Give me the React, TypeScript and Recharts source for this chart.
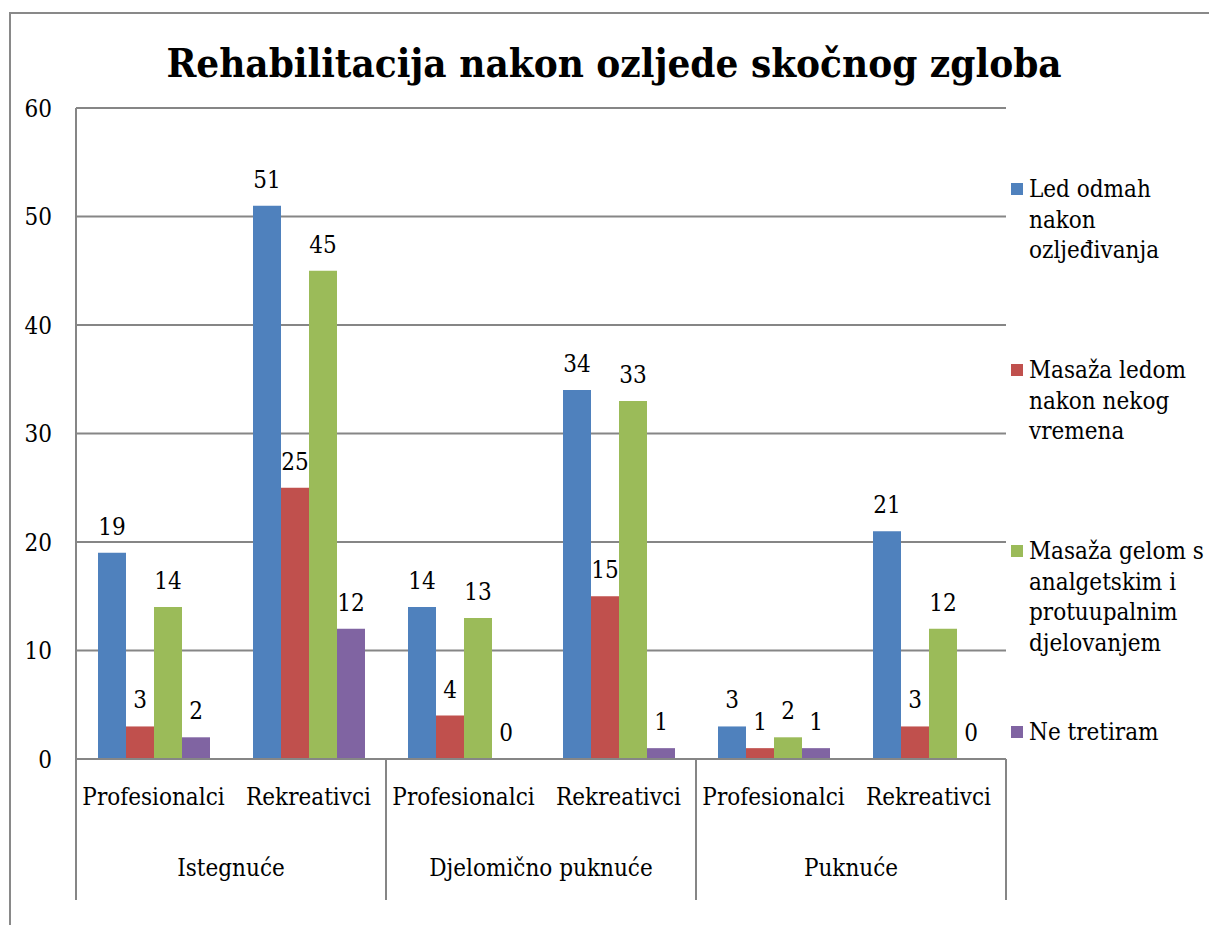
import React from "react";
import { BarChart, Bar, XAxis, YAxis, CartesianGrid, LabelList } from "recharts";

const SUBCATEGORIES = ["Profesionalci", "Rekreativci", "Profesionalci", "Rekreativci", "Profesionalci", "Rekreativci"];
const GROUPS = ["Istegnuće", "Istegnuće", "Djelomično puknuće", "Djelomično puknuće", "Puknuće", "Puknuće"];
const LED_ODMAH = [19, 51, 14, 34, 3, 21];
const MASAZA_LEDOM = [3, 25, 4, 15, 1, 3];
const MASAZA_GELOM = [14, 45, 13, 33, 2, 12];
const NE_TRETIRAM = [2, 12, 0, 1, 1, 0];
const Y_TICKS = [0, 10, 20, 30, 40, 50, 60];

const SERIES = [
  { key: "led", name: "Led odmah nakon ozljeđivanja", lines: ["Led odmah", "nakon", "ozljeđivanja"], color: "#4F81BD", values: LED_ODMAH },
  { key: "ledom", name: "Masaža ledom nakon nekog vremena", lines: ["Masaža ledom", "nakon nekog", "vremena"], color: "#C0504D", values: MASAZA_LEDOM },
  { key: "gelom", name: "Masaža gelom s analgetskim i protuupalnim djelovanjem", lines: ["Masaža gelom s", "analgetskim i", "protuupalnim", "djelovanjem"], color: "#9BBB59", values: MASAZA_GELOM },
  { key: "ne", name: "Ne tretiram", lines: ["Ne tretiram"], color: "#8064A2", values: NE_TRETIRAM },
];

const DATA = SUBCATEGORIES.map((sub, i) => {
  const row: Record<string, string | number> = { sub, group: GROUPS[i] };
  SERIES.forEach((s) => {
    row[s.key] = s.values[i];
  });
  return row;
});

const W = 1209;
const H = 925;
const MARGIN = { top: 108, right: 203, left: 16, bottom: 0 };
const Y_AXIS_W = 60;
const X_AXIS_H = 166;
const PLOT_W = W - MARGIN.left - Y_AXIS_W - MARGIN.right;
const BAND = PLOT_W / SUBCATEGORIES.length;
const TXT: React.CSSProperties = { fontFamily: "DejaVu Serif", fontStretch: "condensed" };
const FS = 24;
const GRID = "#868686";

const XTick = (props: any) => {
  const { x, y, payload, index } = props;
  const i = typeof index === "number" ? index : payload.index;
  const items: React.ReactNode[] = [];
  items.push(
    <text key="s" x={x} y={y + 46} textAnchor="middle" fontSize={FS} style={TXT} fill="#000">
      {payload.value}
    </text>
  );
  if (i % 2 === 0) {
    items.push(<line key="l" x1={x - BAND / 2} x2={x - BAND / 2} y1={y} y2={y + 141} stroke={GRID} strokeWidth={2} />);
    items.push(
      <text key="g" x={x + BAND / 2} y={y + 117} textAnchor="middle" fontSize={FS} style={TXT} fill="#000">
        {GROUPS[i]}
      </text>
    );
  }
  if (i === SUBCATEGORIES.length - 1) {
    items.push(<line key="r" x1={x + BAND / 2} x2={x + BAND / 2} y1={y} y2={y + 141} stroke={GRID} strokeWidth={2} />);
  }
  return <g>{items}</g>;
};

export default function App() {
  return (
    <div style={{ position: "absolute", left: 0, top: 0, width: W, height: H, overflow: "hidden", background: "#fff" }}>
      <div style={{ position: "absolute", left: 9, top: 12, width: 1400, height: 1100, border: "2px solid #898989", boxSizing: "border-box" }} />
      <div style={{ position: "absolute", left: 0, top: 0 }}>
        <BarChart width={W} height={H} data={DATA} margin={MARGIN} barGap={0} barSize={28}>
          <CartesianGrid vertical={false} stroke={GRID} strokeWidth={2} />
          <XAxis
            dataKey="sub"
            interval={0}
            tickLine={false}
            tickSize={0}
            tickMargin={0}
            height={X_AXIS_H}
            axisLine={{ stroke: GRID, strokeWidth: 2 }}
            tick={<XTick />}
          />
          <YAxis
            domain={[0, 60]}
            ticks={Y_TICKS}
            width={Y_AXIS_W}
            tickLine={false}
            tickMargin={18}
            interval={0}
            axisLine={{ stroke: GRID, strokeWidth: 2 }}
            tick={{ fontSize: FS, style: TXT, fill: "#000" }}
          />
          {SERIES.map((s) => (
            <Bar key={s.key} dataKey={s.key} name={s.name} fill={s.color} minPointSize={0.5} isAnimationActive={false}>
              <LabelList dataKey={s.key} position="top" offset={18} fontSize={FS} style={TXT} fill="#000" />
            </Bar>
          ))}
        </BarChart>
      </div>
      <svg width={W} height={H} style={{ position: "absolute", left: 0, top: 0, pointerEvents: "none" }}>
        <text x={614} y={77} textAnchor="middle" fontSize={40} fontWeight="bold" style={TXT} fill="#000">
          Rehabilitacija nakon ozljede skočnog zgloba
        </text>
        {SERIES.map((s, i) => {
          const base = 197 + i * 181;
          return (
            <g key={s.key}>
              <rect x={1011} y={base - 14} width={12} height={12} fill={s.color} />
              {s.lines.map((ln, j) => (
                <text key={j} x={1029} y={base + j * 30.5} fontSize={FS} style={TXT} fill="#000">
                  {ln}
                </text>
              ))}
            </g>
          );
        })}
      </svg>
    </div>
  );
}
